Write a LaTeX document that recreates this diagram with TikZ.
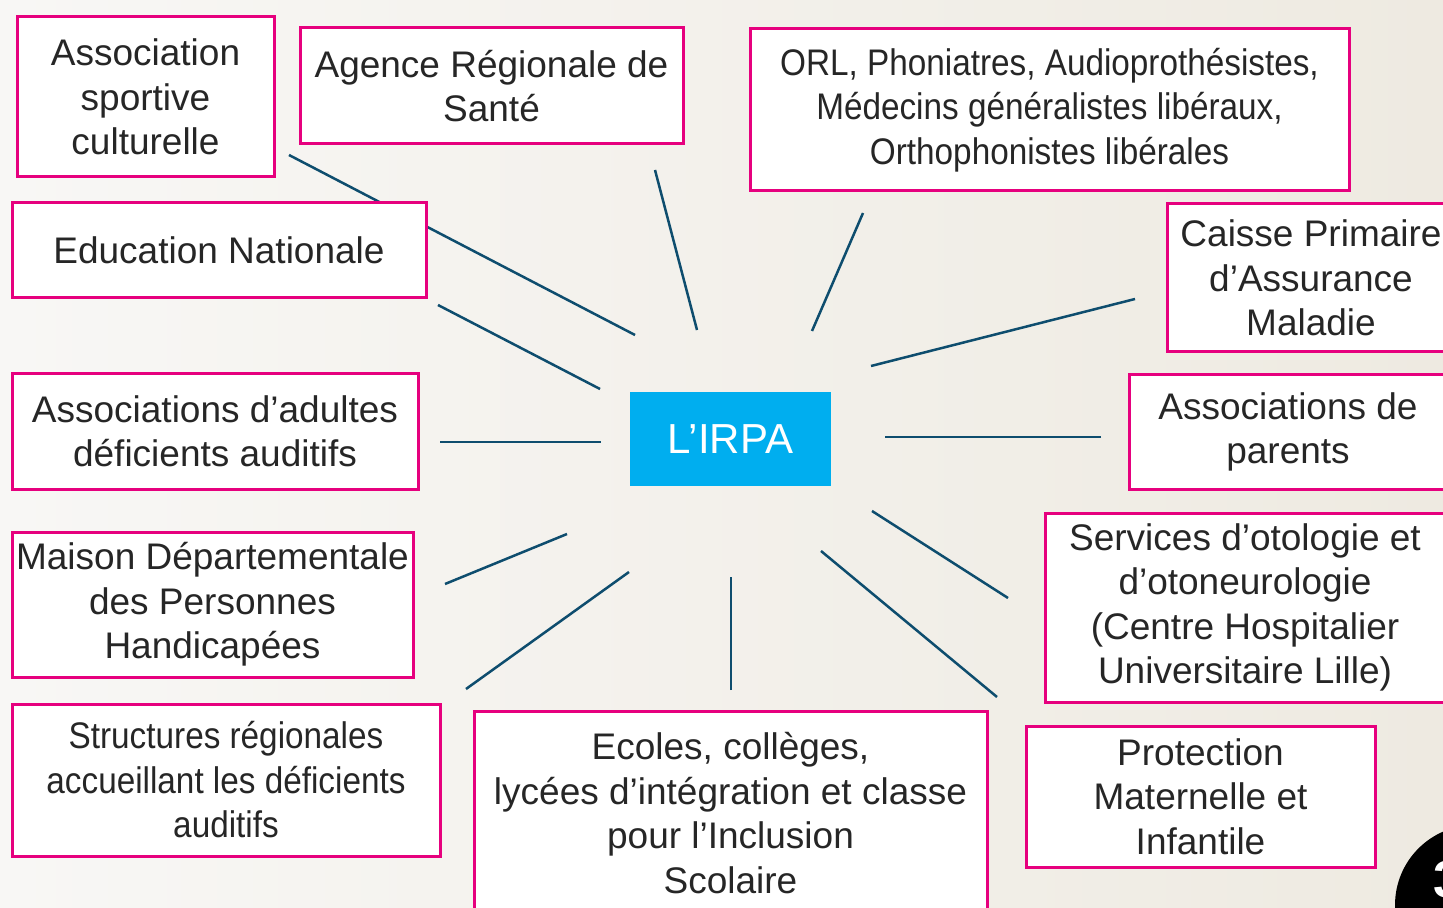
\documentclass[tikz,border=0pt]{standalone}
\usepackage{fontspec}
\setmainfont{Liberation Sans}
\newfontfamily\narrowfont[FakeStretch=0.9]{Liberation Sans}
\usepackage{xcolor}
\usetikzlibrary{positioning}
\definecolor{pinkline}{HTML}{E6007E}
\definecolor{irpacyan}{HTML}{00AEEF}
\definecolor{spokeblue}{HTML}{0E4D6E}
\definecolor{textgrey}{HTML}{262626}
\definecolor{bgleft}{HTML}{F8F7F5}
\definecolor{bgright}{HTML}{EEEAE1}
\tikzset{
  partbox/.style={
    rectangle, draw=pinkline, line width=1.5pt, fill=white,
    align=center, inner sep=0pt, text=textgrey,
    font=\fontsize{18.5}{22.25}\selectfont
  },
  narrowbox/.style={partbox, font=\narrowfont\fontsize{18.5}{22.25}\selectfont},
  hubbox/.style={
    rectangle, fill=irpacyan, text=white, inner sep=0pt,
    minimum width=100.5pt, minimum height=47pt,
    font=\fontsize{21}{25}\selectfont
  },
  spoke/.style={draw=spokeblue, line width=1.25pt}
}

\begin{document}
\begin{tikzpicture}[x=0.5pt, y=-0.5pt]
\useasboundingbox (0,0) rectangle (1443,908);
\clip (0,0) rectangle (1443,908);
\fill[left color=bgleft, right color=bgright] (0,0) rectangle (1443,908);

% spokes around the hub (drawn first, boxes sit on top)
\coordinate (asso-a) at (289,155);    \coordinate (asso-b) at (635,335);
\coordinate (educ-a) at (438,305);    \coordinate (educ-b) at (600,389);
\coordinate (ars-a) at (655,170);     \coordinate (ars-b) at (697,330);
\coordinate (orl-a) at (863,213);     \coordinate (orl-b) at (812,331);
\coordinate (cpam-a) at (1135,299);   \coordinate (cpam-b) at (871,366);
\coordinate (parents-a) at (1101,437);\coordinate (parents-b) at (885,437);
\coordinate (adultes-a) at (440,442); \coordinate (adultes-b) at (601,442);
\coordinate (mdph-a) at (445,584);    \coordinate (mdph-b) at (567,534);
\coordinate (struct-a) at (466,689);  \coordinate (struct-b) at (629,572);
\coordinate (ecoles-a) at (731,690);  \coordinate (ecoles-b) at (731,577);
\coordinate (pmi-a) at (997,697);     \coordinate (pmi-b) at (821,551);
\coordinate (oto-a) at (1008,598);    \coordinate (oto-b) at (872,511);

\foreach \s in {asso,educ,ars,orl,cpam,parents,adultes,mdph,struct,ecoles,pmi,oto}
  \draw[spoke] (\s-a) -- (\s-b);

% hub
\node[hubbox] (irpa) at (730.5,439) {L’IRPA};

% partners
\node[partbox, minimum width=128.5pt, minimum height=80pt] (asso) at (145.5,97) {Association\\sportive\\culturelle};
\node[partbox, minimum width=191.5pt, minimum height=58pt] (ars) at (491.5,86) {Agence Régionale de\\Santé};
\node[narrowbox, minimum width=299.5pt, minimum height=81pt] (orl) at (1049.5,110) {ORL, Phoniatres, Audioprothésistes,\\Médecins généralistes libéraux,\\Orthophonistes libérales};
\node[partbox, minimum width=144pt, minimum height=74pt] (cpam) at (1311,278) {Caisse Primaire\\d’Assurance\\Maladie};
\node[partbox, minimum width=207pt, minimum height=47.5pt] (educ) at (219,250.5) {Education Nationale};
\node[partbox, minimum width=159pt, minimum height=57pt] (parents) at (1288,432) {Associations de\\parents};
\node[partbox, minimum width=203pt, minimum height=57.5pt] (adultes) at (215,431.5) {Associations d’adultes\\déficients auditifs};
\node[partbox, minimum width=200.5pt, minimum height=72.5pt] (mdph) at (212.5,604.5) {Maison Départementale\\des Personnes\\Handicapées};
\node[partbox, minimum width=200pt, minimum height=94.5pt] (oto) at (1245,607.5) {Services d’otologie et\\d’otoneurologie\\(Centre Hospitalier\\Universitaire Lille)};
\node[narrowbox, minimum width=214pt, minimum height=76pt] (struct) at (226,780) {Structures régionales\\accueillant les déficients\\auditifs};
\node[partbox, minimum width=256.5pt, minimum height=102pt] (ecoles) at (730.5,813) {Ecoles, collèges,\\lycées d’intégration et classe\\pour l’Inclusion\\Scolaire};
\node[partbox, minimum width=174.5pt, minimum height=70.5pt] (pmi) at (1200.5,796.5) {Protection\\Maternelle et\\Infantile};

% slide number badge
\fill[black] (1475,905) circle (40pt);
\node[anchor=west, inner sep=0pt, text=white, font=\fontsize{26}{30}\selectfont\bfseries] (pagenum) at (1433,880) {3};
\end{tikzpicture}
\end{document}
